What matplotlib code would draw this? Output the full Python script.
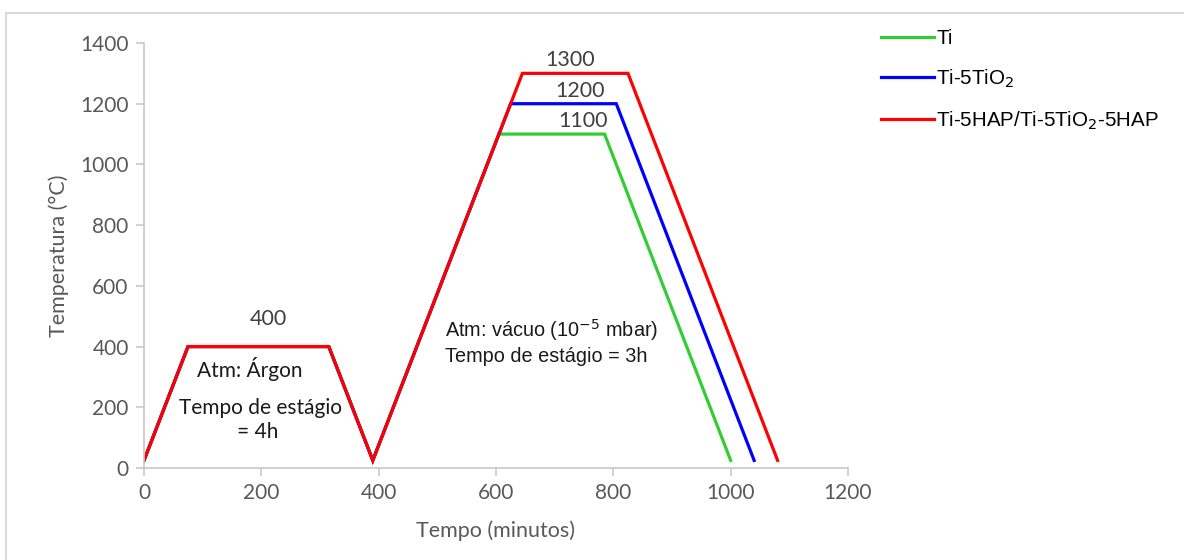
import matplotlib.pyplot as plt
from matplotlib.lines import Line2D

# Sintering cycles (time in minutes, temperature in C)
ti_time = [0, 75, 315, 390, 605, 785, 1000]
ti_temp = [25, 400, 400, 25, 1100, 1100, 25]

tio2_time = [0, 75, 315, 390, 625, 805, 1040]
tio2_temp = [25, 400, 400, 25, 1200, 1200, 25]

hap_time = [0, 75, 315, 390, 645, 825, 1080]
hap_temp = [25, 400, 400, 25, 1300, 1300, 25]

series_labels = ['Ti', 'Ti-5TiO$_2$', 'Ti-5HAP/Ti-5TiO$_2$-5HAP']
plateau_labels = ['400', '1100', '1200', '1300']

fig = plt.figure(figsize=(11.84, 5.6), dpi=100)
ax = fig.add_axes([144 / 1184, 1 - 468 / 560, 704 / 1184, 425 / 560])

ax.plot(ti_time, ti_temp, color='#33cc33', lw=2.3, label=series_labels[0], solid_joinstyle='miter')
ax.plot(tio2_time, tio2_temp, color='#0000ff', lw=2.3, label=series_labels[1], solid_joinstyle='miter')
ax.plot(hap_time, hap_temp, color='#ff0000', lw=2.3, label=series_labels[2], solid_joinstyle='miter')

ax.set_xlim(0, 1200)
ax.set_ylim(0, 1400)
ax.set_xticks(range(0, 1201, 200))
ax.set_yticks(range(0, 1401, 200))

grey = '#c8c8c8'
for s in ['top', 'right']:
    ax.spines[s].set_visible(False)
for s in ['left', 'bottom']:
    ax.spines[s].set_color(grey)
    ax.spines[s].set_linewidth(1.2)
ax.tick_params(colors=grey, length=6, width=1.2, labelcolor='#595959', labelsize=15, pad=5)
for lab in ax.get_xticklabels() + ax.get_yticklabels():
    lab.set_fontfamily('Lato')

ax.set_xlabel('Tempo (minutos)', fontsize=15.5, color='#595959', family='Lato', labelpad=12)
ax.set_ylabel('Temperatura (°C)', fontsize=15.5, color='#595959', family='Lato', labelpad=8)

# plateau values
txt = dict(ha='center', va='center', fontsize=15.5, color='#404040', family='Lato')
ax.text(212, 492, plateau_labels[0], **txt)
ax.text(748, 1142, plateau_labels[1], **txt)
ax.text(743, 1243, plateau_labels[2], **txt)
ax.text(726, 1345, plateau_labels[3], **txt)

# stage annotations
ann = dict(ha='center', va='center', fontsize=15, family='Lato', color='#1a1a1a')
ax.text(181, 326, 'Atm: Árgon', **ann)
ax.text(199, 198, 'Tempo de estágio', **ann)
ax.text(194, 119, '= 4h', **ann)
ax.text(513, 455, 'Atm: vácuo (10$^{-5}$ mbar)', ha='left', va='center', fontsize=14.3,
        family='Liberation Sans', color='#1a1a1a')
ax.text(513, 366, 'Tempo de estágio = 3h', ha='left', va='center', fontsize=14.3,
        family='Liberation Sans', color='#1a1a1a')

fig.legend(loc='upper left', bbox_to_anchor=(881 / 1184, 1 - 29 / 560), frameon=False,
           prop={'family': 'Liberation Sans', 'size': 14.8}, handlelength=2.6,
           handletextpad=0.1, labelspacing=0.95, borderaxespad=0, borderpad=0)

# outer frame of the chart area
fig.add_artist(Line2D([6 / 1184, 1], [1 - 13 / 560, 1 - 13 / 560], color='#d9d9d9', lw=1.5))
fig.add_artist(Line2D([6 / 1184, 6 / 1184], [0, 1 - 13 / 560], color='#d9d9d9', lw=1.5))

fig.savefig('out.png', dpi=100)
